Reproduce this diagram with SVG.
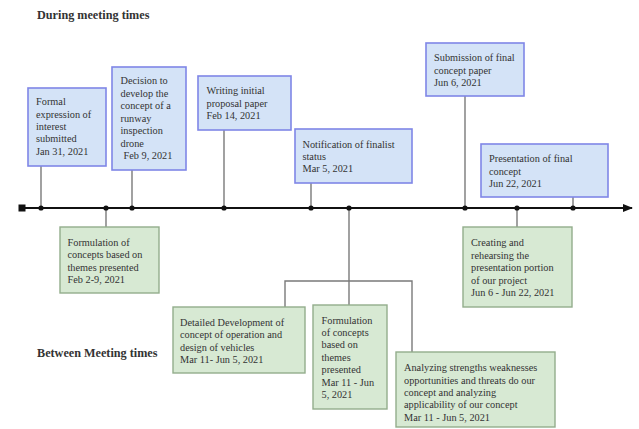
<svg xmlns="http://www.w3.org/2000/svg" width="639" height="429" viewBox="0 0 639 429">
<style>
.b{fill:#d4e3f7;stroke:#7f86e6;stroke-width:1.6}
.g{fill:#d7e9d3;stroke:#93ad8c;stroke-width:1.4}
.c{fill:none;stroke:#7a7a7a;stroke-width:1.4}
.d{fill:#111}
</style>
<defs>
<marker id="ar" markerWidth="10" markerHeight="8" refX="9" refY="4" orient="auto" markerUnits="userSpaceOnUse">
<path d="M0,0 L10,4 L0,8 z" fill="#111"/>
</marker>
</defs>
<rect width="639" height="429" fill="#ffffff"/>
<text x="37" y="19" style="font-family:'Liberation Serif',serif;font-size:12.2px;font-weight:bold;fill:#333">During meeting times</text>
<text x="37" y="357" style="font-family:'Liberation Serif',serif;font-size:12.2px;font-weight:bold;fill:#333">Between Meeting times</text>
<g id="connectors">
<line class="c" x1="41" y1="166" x2="41" y2="208"/>
<line class="c" x1="132" y1="170" x2="132" y2="208"/>
<line class="c" x1="224" y1="130" x2="224" y2="208"/>
<line class="c" x1="311" y1="183" x2="311" y2="208"/>
<line class="c" x1="465" y1="96" x2="465" y2="208"/>
<line class="c" x1="573" y1="197" x2="573" y2="208"/>
<line class="c" x1="106" y1="208" x2="106" y2="227"/>
<line class="c" x1="517" y1="208" x2="517" y2="227"/>
<line class="c" x1="349" y1="208" x2="349" y2="305"/>
<polyline class="c" points="285,307 285,281 412,281 412,352"/>
<line x1="22" y1="208" x2="632" y2="208" stroke="#111" stroke-width="2" marker-end="url(#ar)"/>
<rect class="d" x="18.5" y="204.5" width="7" height="7"/>
<g class="d">
<circle cx="41" cy="208" r="2.6"/>
<circle cx="106" cy="208" r="2.6"/>
<circle cx="132" cy="208" r="2.6"/>
<circle cx="224" cy="208" r="2.6"/>
<circle cx="311" cy="208" r="2.6"/>
<circle cx="349" cy="208" r="2.6"/>
<circle cx="465" cy="208" r="2.6"/>
<circle cx="517" cy="208" r="2.6"/>
<circle cx="573" cy="208" r="2.6"/>
</g>
</g>
<g id="n1">
<rect class="b" x="28" y="88" width="78" height="78"/>
<text style="font-family:'Liberation Serif',serif;font-size:10.3px;fill:#333"><tspan x="36" y="105">Formal</tspan><tspan x="36" y="117.5">expression of</tspan><tspan x="36" y="130">interest</tspan><tspan x="36" y="142">submitted</tspan><tspan x="36" y="155">Jan 31, 2021</tspan></text>
</g>
<g id="n2">
<rect class="b" x="112" y="67" width="74" height="103"/>
<text style="font-family:'Liberation Serif',serif;font-size:10.3px;fill:#333"><tspan x="120.5" y="84">Decision to</tspan><tspan x="120.5" y="96.5">develop the</tspan><tspan x="120.5" y="109">concept of a</tspan><tspan x="120.5" y="121.5">runway</tspan><tspan x="120.5" y="134">inspection</tspan><tspan x="120.5" y="146.5">drone</tspan><tspan x="123.5" y="159">Feb 9, 2021</tspan></text>
</g>
<g id="n3">
<rect class="b" x="198" y="76" width="93" height="54"/>
<text style="font-family:'Liberation Serif',serif;font-size:10.3px;fill:#333"><tspan x="206.5" y="94">Writing initial</tspan><tspan x="206.5" y="106.5">proposal paper</tspan><tspan x="206.5" y="119">Feb 14, 2021</tspan></text>
</g>
<g id="n4">
<rect class="b" x="295" y="129" width="117" height="54"/>
<text style="font-family:'Liberation Serif',serif;font-size:10.3px;fill:#333"><tspan x="302.5" y="148">Notification of finalist</tspan><tspan x="302.5" y="160">status</tspan><tspan x="302.5" y="172">Mar 5, 2021</tspan></text>
</g>
<g id="n5">
<rect class="b" x="426" y="43" width="98" height="53"/>
<text style="font-family:'Liberation Serif',serif;font-size:10.3px;fill:#333"><tspan x="434" y="61">Submission of final</tspan><tspan x="434" y="73.5">concept paper</tspan><tspan x="434" y="86">Jun 6, 2021</tspan></text>
</g>
<g id="n6">
<rect class="b" x="481" y="144" width="127" height="53"/>
<text style="font-family:'Liberation Serif',serif;font-size:10.3px;fill:#333"><tspan x="489" y="162">Presentation of final</tspan><tspan x="489" y="174.5">concept</tspan><tspan x="489" y="187">Jun 22, 2021</tspan></text>
</g>
<g id="g1">
<rect class="g" x="60" y="227" width="99" height="66"/>
<text style="font-family:'Liberation Serif',serif;font-size:10.3px;fill:#333"><tspan x="67.5" y="246">Formulation of</tspan><tspan x="67.5" y="258">concepts based on</tspan><tspan x="67.5" y="270.5">themes presented</tspan><tspan x="67.5" y="283">Feb 2-9, 2021</tspan></text>
</g>
<g id="g2">
<rect class="g" x="173" y="307" width="132" height="66"/>
<text style="font-family:'Liberation Serif',serif;font-size:10.3px;fill:#333"><tspan x="180" y="326">Detailed Development of</tspan><tspan x="180" y="338">concept of operation and</tspan><tspan x="180" y="350.5">design of vehicles</tspan><tspan x="180" y="363">Mar 11- Jun 5, 2021</tspan></text>
</g>
<g id="g3">
<rect class="g" x="313" y="305" width="74" height="104"/>
<text style="font-family:'Liberation Serif',serif;font-size:10.3px;fill:#333"><tspan x="321.5" y="323.5">Formulation</tspan><tspan x="321.5" y="336">of concepts</tspan><tspan x="321.5" y="348">based on</tspan><tspan x="321.5" y="360.5">themes</tspan><tspan x="321.5" y="373">presented</tspan><tspan x="321.5" y="385.5">Mar 11 - Jun</tspan><tspan x="321.5" y="398">5, 2021</tspan></text>
</g>
<g id="g4">
<rect class="g" x="396" y="352" width="159" height="75"/>
<text style="font-family:'Liberation Serif',serif;font-size:10.3px;fill:#333"><tspan x="404" y="371">Analyzing strengths weaknesses</tspan><tspan x="404" y="383.5">opportunities and threats do our</tspan><tspan x="404" y="396">concept and analyzing</tspan><tspan x="404" y="408">applicability of our concept</tspan><tspan x="404" y="421">Mar 11 - Jun 5, 2021</tspan></text>
</g>
<g id="g5">
<rect class="g" x="463" y="227" width="109" height="80"/>
<text style="font-family:'Liberation Serif',serif;font-size:10.3px;fill:#333"><tspan x="471" y="246">Creating and</tspan><tspan x="471" y="258.5">rehearsing the</tspan><tspan x="471" y="271">presentation portion</tspan><tspan x="471" y="283.5">of our project</tspan><tspan x="471" y="296">Jun 6 - Jun 22, 2021</tspan></text>
</g>
</svg>
